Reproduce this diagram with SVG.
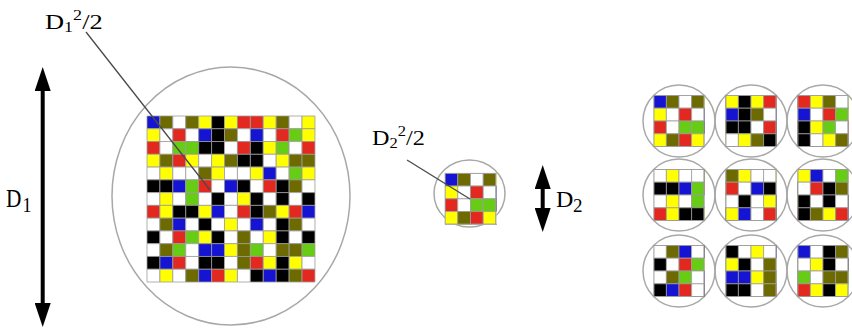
<svg xmlns="http://www.w3.org/2000/svg" xmlns:xlink="http://www.w3.org/1999/xlink" width="852" height="333" viewBox="0 0 852 333">
<style>
#cells rect{stroke:#9c9c9c;stroke-width:0.8;vector-effect:non-scaling-stroke}
.b{fill:#1414d2}.o{fill:#6d6a00}.y{fill:#ffff00}.r{fill:#e3281f}.g{fill:#66cc14}.k{fill:#000000}.w{fill:#ffffff}
.ring{fill:none;stroke:#a8a8a8;stroke-width:1.5}
.edge{fill:none;stroke:#9c9c9c;stroke-width:0.8;vector-effect:non-scaling-stroke}
.lead{stroke:#4a4a4a;stroke-width:1.3;fill:none}
.dim{stroke:#000;stroke-width:4;fill:none;marker-start:url(#head);marker-end:url(#head)}
.lbl{font-family:"Liberation Serif","Times New Roman",serif;fill:#000}
</style>
<defs>
<marker id="head" viewBox="0 0 6 4" refX="3" refY="2" markerWidth="6" markerHeight="4" orient="auto-start-reverse" markerUnits="strokeWidth"><path d="M0,0L6,2L0,4z" fill="#000"/></marker>
<clipPath id="blk"><rect x="-0.035" y="-0.035" width="4.07" height="4.07"/></clipPath>
<g id="cells">
<rect x="0" y="0" width="1" height="1" class="b"/><rect x="1" y="0" width="1" height="1" class="o"/><rect x="2" y="0" width="1" height="1" class="w"/><rect x="3" y="0" width="1" height="1" class="o"/><rect x="4" y="0" width="1" height="1" class="y"/><rect x="5" y="0" width="1" height="1" class="k"/><rect x="6" y="0" width="1" height="1" class="y"/><rect x="7" y="0" width="1" height="1" class="r"/><rect x="8" y="0" width="1" height="1" class="r"/><rect x="9" y="0" width="1" height="1" class="y"/><rect x="10" y="0" width="1" height="1" class="o"/><rect x="11" y="0" width="1" height="1" class="w"/><rect x="12" y="0" width="1" height="1" class="y"/>
<rect x="0" y="1" width="1" height="1" class="y"/><rect x="1" y="1" width="1" height="1" class="w"/><rect x="2" y="1" width="1" height="1" class="r"/><rect x="3" y="1" width="1" height="1" class="w"/><rect x="4" y="1" width="1" height="1" class="b"/><rect x="5" y="1" width="1" height="1" class="k"/><rect x="6" y="1" width="1" height="1" class="o"/><rect x="7" y="1" width="1" height="1" class="w"/><rect x="8" y="1" width="1" height="1" class="b"/><rect x="9" y="1" width="1" height="1" class="w"/><rect x="10" y="1" width="1" height="1" class="r"/><rect x="11" y="1" width="1" height="1" class="g"/><rect x="12" y="1" width="1" height="1" class="y"/>
<rect x="0" y="2" width="1" height="1" class="r"/><rect x="1" y="2" width="1" height="1" class="w"/><rect x="2" y="2" width="1" height="1" class="g"/><rect x="3" y="2" width="1" height="1" class="g"/><rect x="4" y="2" width="1" height="1" class="k"/><rect x="5" y="2" width="1" height="1" class="k"/><rect x="6" y="2" width="1" height="1" class="w"/><rect x="7" y="2" width="1" height="1" class="r"/><rect x="8" y="2" width="1" height="1" class="k"/><rect x="9" y="2" width="1" height="1" class="y"/><rect x="10" y="2" width="1" height="1" class="g"/><rect x="11" y="2" width="1" height="1" class="w"/><rect x="12" y="2" width="1" height="1" class="r"/>
<rect x="0" y="3" width="1" height="1" class="y"/><rect x="1" y="3" width="1" height="1" class="o"/><rect x="2" y="3" width="1" height="1" class="r"/><rect x="3" y="3" width="1" height="1" class="y"/><rect x="4" y="3" width="1" height="1" class="w"/><rect x="5" y="3" width="1" height="1" class="y"/><rect x="6" y="3" width="1" height="1" class="o"/><rect x="7" y="3" width="1" height="1" class="k"/><rect x="8" y="3" width="1" height="1" class="k"/><rect x="9" y="3" width="1" height="1" class="w"/><rect x="10" y="3" width="1" height="1" class="y"/><rect x="11" y="3" width="1" height="1" class="o"/><rect x="12" y="3" width="1" height="1" class="o"/>
<rect x="0" y="4" width="1" height="1" class="w"/><rect x="1" y="4" width="1" height="1" class="y"/><rect x="2" y="4" width="1" height="1" class="w"/><rect x="3" y="4" width="1" height="1" class="w"/><rect x="4" y="4" width="1" height="1" class="o"/><rect x="5" y="4" width="1" height="1" class="y"/><rect x="6" y="4" width="1" height="1" class="w"/><rect x="7" y="4" width="1" height="1" class="w"/><rect x="8" y="4" width="1" height="1" class="y"/><rect x="9" y="4" width="1" height="1" class="b"/><rect x="10" y="4" width="1" height="1" class="w"/><rect x="11" y="4" width="1" height="1" class="g"/><rect x="12" y="4" width="1" height="1" class="y"/>
<rect x="0" y="5" width="1" height="1" class="k"/><rect x="1" y="5" width="1" height="1" class="k"/><rect x="2" y="5" width="1" height="1" class="b"/><rect x="3" y="5" width="1" height="1" class="g"/><rect x="4" y="5" width="1" height="1" class="r"/><rect x="5" y="5" width="1" height="1" class="w"/><rect x="6" y="5" width="1" height="1" class="b"/><rect x="7" y="5" width="1" height="1" class="k"/><rect x="8" y="5" width="1" height="1" class="w"/><rect x="9" y="5" width="1" height="1" class="r"/><rect x="10" y="5" width="1" height="1" class="k"/><rect x="11" y="5" width="1" height="1" class="o"/><rect x="12" y="5" width="1" height="1" class="w"/>
<rect x="0" y="6" width="1" height="1" class="w"/><rect x="1" y="6" width="1" height="1" class="y"/><rect x="2" y="6" width="1" height="1" class="w"/><rect x="3" y="6" width="1" height="1" class="g"/><rect x="4" y="6" width="1" height="1" class="w"/><rect x="5" y="6" width="1" height="1" class="k"/><rect x="6" y="6" width="1" height="1" class="w"/><rect x="7" y="6" width="1" height="1" class="y"/><rect x="8" y="6" width="1" height="1" class="k"/><rect x="9" y="6" width="1" height="1" class="w"/><rect x="10" y="6" width="1" height="1" class="k"/><rect x="11" y="6" width="1" height="1" class="w"/><rect x="12" y="6" width="1" height="1" class="k"/>
<rect x="0" y="7" width="1" height="1" class="r"/><rect x="1" y="7" width="1" height="1" class="y"/><rect x="2" y="7" width="1" height="1" class="k"/><rect x="3" y="7" width="1" height="1" class="k"/><rect x="4" y="7" width="1" height="1" class="y"/><rect x="5" y="7" width="1" height="1" class="b"/><rect x="6" y="7" width="1" height="1" class="w"/><rect x="7" y="7" width="1" height="1" class="r"/><rect x="8" y="7" width="1" height="1" class="k"/><rect x="9" y="7" width="1" height="1" class="o"/><rect x="10" y="7" width="1" height="1" class="y"/><rect x="11" y="7" width="1" height="1" class="r"/><rect x="12" y="7" width="1" height="1" class="b"/>
<rect x="0" y="8" width="1" height="1" class="w"/><rect x="1" y="8" width="1" height="1" class="o"/><rect x="2" y="8" width="1" height="1" class="b"/><rect x="3" y="8" width="1" height="1" class="w"/><rect x="4" y="8" width="1" height="1" class="k"/><rect x="5" y="8" width="1" height="1" class="w"/><rect x="6" y="8" width="1" height="1" class="y"/><rect x="7" y="8" width="1" height="1" class="w"/><rect x="8" y="8" width="1" height="1" class="b"/><rect x="9" y="8" width="1" height="1" class="w"/><rect x="10" y="8" width="1" height="1" class="k"/><rect x="11" y="8" width="1" height="1" class="o"/><rect x="12" y="8" width="1" height="1" class="w"/>
<rect x="0" y="9" width="1" height="1" class="k"/><rect x="1" y="9" width="1" height="1" class="w"/><rect x="2" y="9" width="1" height="1" class="r"/><rect x="3" y="9" width="1" height="1" class="g"/><rect x="4" y="9" width="1" height="1" class="y"/><rect x="5" y="9" width="1" height="1" class="k"/><rect x="6" y="9" width="1" height="1" class="w"/><rect x="7" y="9" width="1" height="1" class="o"/><rect x="8" y="9" width="1" height="1" class="w"/><rect x="9" y="9" width="1" height="1" class="y"/><rect x="10" y="9" width="1" height="1" class="k"/><rect x="11" y="9" width="1" height="1" class="w"/><rect x="12" y="9" width="1" height="1" class="k"/>
<rect x="0" y="10" width="1" height="1" class="w"/><rect x="1" y="10" width="1" height="1" class="o"/><rect x="2" y="10" width="1" height="1" class="g"/><rect x="3" y="10" width="1" height="1" class="w"/><rect x="4" y="10" width="1" height="1" class="b"/><rect x="5" y="10" width="1" height="1" class="b"/><rect x="6" y="10" width="1" height="1" class="y"/><rect x="7" y="10" width="1" height="1" class="o"/><rect x="8" y="10" width="1" height="1" class="g"/><rect x="9" y="10" width="1" height="1" class="w"/><rect x="10" y="10" width="1" height="1" class="o"/><rect x="11" y="10" width="1" height="1" class="o"/><rect x="12" y="10" width="1" height="1" class="g"/>
<rect x="0" y="11" width="1" height="1" class="k"/><rect x="1" y="11" width="1" height="1" class="b"/><rect x="2" y="11" width="1" height="1" class="r"/><rect x="3" y="11" width="1" height="1" class="w"/><rect x="4" y="11" width="1" height="1" class="k"/><rect x="5" y="11" width="1" height="1" class="k"/><rect x="6" y="11" width="1" height="1" class="w"/><rect x="7" y="11" width="1" height="1" class="o"/><rect x="8" y="11" width="1" height="1" class="r"/><rect x="9" y="11" width="1" height="1" class="y"/><rect x="10" y="11" width="1" height="1" class="k"/><rect x="11" y="11" width="1" height="1" class="y"/><rect x="12" y="11" width="1" height="1" class="w"/>
<rect x="0" y="12" width="1" height="1" class="w"/><rect x="1" y="12" width="1" height="1" class="y"/><rect x="2" y="12" width="1" height="1" class="w"/><rect x="3" y="12" width="1" height="1" class="o"/><rect x="4" y="12" width="1" height="1" class="b"/><rect x="5" y="12" width="1" height="1" class="r"/><rect x="6" y="12" width="1" height="1" class="y"/><rect x="7" y="12" width="1" height="1" class="w"/><rect x="8" y="12" width="1" height="1" class="k"/><rect x="9" y="12" width="1" height="1" class="b"/><rect x="10" y="12" width="1" height="1" class="k"/><rect x="11" y="12" width="1" height="1" class="o"/><rect x="12" y="12" width="1" height="1" class="r"/>
</g>
</defs>
<rect width="852" height="333" fill="#fff"/>

<g id="sample-D1">
<ellipse class="ring" cx="231" cy="196" rx="119" ry="129"/>
<use xlink:href="#cells" href="#cells" transform="translate(147,116) scale(12.92,12.77)"/>
</g>

<g id="sample-D2">
<ellipse class="ring" cx="469.5" cy="193.5" rx="35.5" ry="33.5"/>
<g transform="translate(445,173.3) scale(12.75,12.75)" clip-path="url(#blk)"><use xlink:href="#cells" href="#cells"/><rect class="edge" x="0" y="0" width="4" height="4"/></g>
</g>

<g id="subsamples">
<g id="sub-1"><circle class="ring" cx="679" cy="121" r="36"/><g transform="translate(653.8,95.4) scale(12.6,12.8)" clip-path="url(#blk)"><use xlink:href="#cells" href="#cells" x="0" y="0"/><rect class="edge" x="0" y="0" width="4" height="4"/></g></g>
<g id="sub-2"><circle class="ring" cx="751" cy="121" r="36"/><g transform="translate(725.8,95.4) scale(12.6,12.8)" clip-path="url(#blk)"><use xlink:href="#cells" href="#cells" x="-4" y="0"/><rect class="edge" x="0" y="0" width="4" height="4"/></g></g>
<g id="sub-3"><circle class="ring" cx="823" cy="121" r="36"/><g transform="translate(797.8,95.4) scale(12.6,12.8)" clip-path="url(#blk)"><use xlink:href="#cells" href="#cells" x="-8" y="0"/><rect class="edge" x="0" y="0" width="4" height="4"/></g></g>
<g id="sub-4"><circle class="ring" cx="679" cy="195" r="36"/><g transform="translate(653.8,169.4) scale(12.6,12.8)" clip-path="url(#blk)"><use xlink:href="#cells" href="#cells" x="0" y="-4"/><rect class="edge" x="0" y="0" width="4" height="4"/></g></g>
<g id="sub-5"><circle class="ring" cx="751" cy="195" r="36"/><g transform="translate(725.8,169.4) scale(12.6,12.8)" clip-path="url(#blk)"><use xlink:href="#cells" href="#cells" x="-4" y="-4"/><rect class="edge" x="0" y="0" width="4" height="4"/></g></g>
<g id="sub-6"><circle class="ring" cx="823" cy="195" r="36"/><g transform="translate(797.8,169.4) scale(12.6,12.8)" clip-path="url(#blk)"><use xlink:href="#cells" href="#cells" x="-8" y="-4"/><rect class="edge" x="0" y="0" width="4" height="4"/></g></g>
<g id="sub-7"><circle class="ring" cx="679" cy="271" r="36"/><g transform="translate(653.8,245.4) scale(12.6,12.8)" clip-path="url(#blk)"><use xlink:href="#cells" href="#cells" x="0" y="-8"/><rect class="edge" x="0" y="0" width="4" height="4"/></g></g>
<g id="sub-8"><circle class="ring" cx="751" cy="271" r="36"/><g transform="translate(725.8,245.4) scale(12.6,12.8)" clip-path="url(#blk)"><use xlink:href="#cells" href="#cells" x="-4" y="-8"/><rect class="edge" x="0" y="0" width="4" height="4"/></g></g>
<g id="sub-9"><circle class="ring" cx="823" cy="271" r="36"/><g transform="translate(797.8,245.4) scale(12.6,12.8)" clip-path="url(#blk)"><use xlink:href="#cells" href="#cells" x="-8" y="-8"/><rect class="edge" x="0" y="0" width="4" height="4"/></g></g>
</g>

<g id="connectors">
<line class="lead" x1="86" y1="32" x2="210" y2="190"/>
<line class="lead" x1="407" y1="160" x2="470" y2="199"/>
<line class="dim" x1="42.7" y1="79" x2="42.7" y2="315"/>
<line class="dim" x1="542.7" y1="177" x2="542.7" y2="220"/>
</g>

<g id="label-D1-area"><text class="lbl" font-size="22" transform="translate(45,29.3) scale(1.2,1)">D<tspan x="15.9" y="3" font-size="15">1</tspan><tspan x="23.4" y="-9.5" font-size="15">2</tspan><tspan x="31" y="0" font-size="22">/2</tspan></text></g>
<g id="label-D2-area"><text class="lbl" font-size="22" transform="translate(372,145) scale(1.1,1)">D<tspan x="15.9" y="3" font-size="15">2</tspan><tspan x="23.4" y="-9" font-size="15">2</tspan><tspan x="31" y="0" font-size="22">/2</tspan></text></g>
<g id="label-D1"><text class="lbl" font-size="26" transform="translate(6,206.7) scale(0.82,1)">D<tspan x="20" y="5" font-size="22">1</tspan></text></g>
<g id="label-D2"><text class="lbl" font-size="24" transform="translate(556,207)">D<tspan x="17" y="5" font-size="19">2</tspan></text></g>
</svg>
